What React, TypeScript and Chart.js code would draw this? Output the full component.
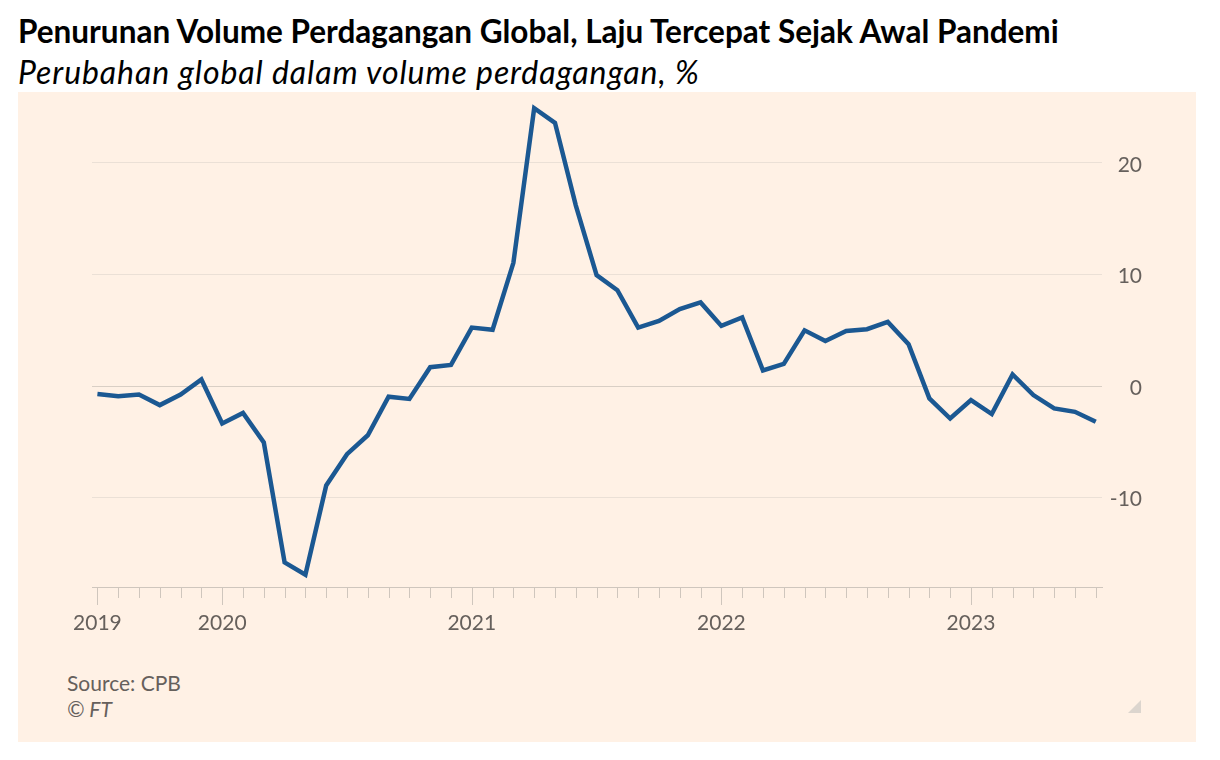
import React, { useEffect, useRef } from "react";
import { Chart, registerables } from "chart.js";

Chart.register(...registerables);

const months = [
  "2019-07", "2019-08", "2019-09", "2019-10", "2019-11", "2019-12",
  "2020-01", "2020-02", "2020-03", "2020-04", "2020-05", "2020-06",
  "2020-07", "2020-08", "2020-09", "2020-10", "2020-11", "2020-12",
  "2021-01", "2021-02", "2021-03", "2021-04", "2021-05", "2021-06",
  "2021-07", "2021-08", "2021-09", "2021-10", "2021-11", "2021-12",
  "2022-01", "2022-02", "2022-03", "2022-04", "2022-05", "2022-06",
  "2022-07", "2022-08", "2022-09", "2022-10", "2022-11", "2022-12",
  "2023-01", "2023-02", "2023-03", "2023-04", "2023-05", "2023-06",
  "2023-07",
];

const tradeVolumeChange = [
  -0.7, -0.9, -0.75, -1.7, -0.75, 0.6,
  -3.35, -2.4, -5.05, -15.8, -16.9, -8.9,
  -6.1, -4.4, -0.95, -1.15, 1.7, 1.9,
  5.25, 5.05, 11.05, 24.9, 23.6, 16.2,
  9.95, 8.6, 5.25, 5.85, 6.9, 7.5,
  5.4, 6.15, 1.4, 2.0, 5.0, 4.05,
  4.95, 5.1, 5.75, 3.75, -1.1, -2.9,
  -1.25, -2.5, 1.05, -0.8, -2.0, -2.3,
  -3.2,
];

const yTickValues = [-10, 0, 10, 20];

const TEXT = "#66605c";
const FONT = "Lato, 'Open Sans', sans-serif";

const isMajor = (i: number) => i === 0 || months[i].endsWith("-01");
const tickLabel = (i: number) => (isMajor(i) ? months[i].slice(0, 4) : "");

// Draws month tick marks under the x axis and right-aligned y labels,
// positioned through the chart's own scales.
const axisExtras = {
  id: "axisExtras",
  afterDraw(chart: any) {
    const xs = chart.scales.x;
    const ys = chart.scales.y;
    const ctx = chart.ctx;
    const { bottom, right } = chart.chartArea;
    ctx.save();
    ctx.strokeStyle = "#cfc6bd";
    ctx.lineWidth = 1;
    xs.ticks.forEach((t: any) => {
      const px = Math.round(xs.getPixelForValue(t.value)) + 0.5;
      const len = isMajor(t.value) ? 18 : 11;
      ctx.beginPath();
      ctx.moveTo(px, bottom);
      ctx.lineTo(px, bottom + len);
      ctx.stroke();
    });
    ctx.fillStyle = TEXT;
    ctx.font = `21px ${FONT}`;
    ctx.textAlign = "right";
    ctx.textBaseline = "middle";
    ys.ticks.forEach((t: any) => {
      const py = ys.getPixelForValue(t.value);
      ctx.fillText(String(t.value), right + 40, py + 2);
    });
    ctx.restore();
  },
};

export default function App() {
  const canvasRef = useRef<HTMLCanvasElement | null>(null);

  useEffect(() => {
    if (!canvasRef.current) return;
    const chart = new Chart(canvasRef.current, {
      type: "line",
      data: {
        datasets: [
          {
            data: tradeVolumeChange.map((v, i) => ({ x: i, y: v })),
            borderColor: "#1b5892",
            borderWidth: 4.5,
            pointRadius: 0,
            tension: 0,
            fill: false,
          },
        ],
      },
      options: {
        animation: false,
        responsive: false,
        maintainAspectRatio: false,
        layout: { padding: { left: 74, top: 4, right: 0, bottom: 0 } },
        plugins: {
          legend: { display: false },
          tooltip: { enabled: false },
        },
        scales: {
          x: {
            type: "linear",
            min: -0.26,
            max: 48.3,
            afterBuildTicks: (s: any) => {
              s.ticks = months.map((_, i) => ({ value: i }));
            },
            afterFit: (s: any) => {
              s.height = 65;
              s.paddingLeft = 0;
              s.paddingRight = 0;
            },
            grid: { display: false, drawTicks: false },
            border: { display: true, color: "#cfc6bd", width: 1 },
            ticks: {
              autoSkip: false,
              maxRotation: 0,
              minRotation: 0,
              padding: 24,
              color: TEXT,
              font: { family: FONT, size: 21 },
              callback: (v: any) => tickLabel(Number(v)),
            },
          },
          y: {
            position: "right",
            min: -18,
            max: 26,
            afterBuildTicks: (s: any) => {
              s.ticks = yTickValues.map((v) => ({ value: v }));
            },
            afterFit: (s: any) => {
              s.width = 94;
              s.paddingTop = 0;
              s.paddingBottom = 0;
            },
            grid: {
              drawTicks: false,
              color: (c: any) => (c.tick && c.tick.value === 0 ? "#d9cfc5" : "#ebe0d6"),
              lineWidth: 1,
            },
            border: { display: false },
            ticks: { display: false },
          },
        },
      },
      plugins: [axisExtras],
    } as any);
    return () => chart.destroy();
  }, []);

  return (
    <div style={{ position: "absolute", left: 0, top: 0, width: 1220, height: 760, background: "#fff" }}>
      <div
        style={{
          position: "absolute",
          left: 18,
          top: 16,
          fontFamily: FONT,
          fontWeight: 700,
          fontSize: 31.5,
          lineHeight: "31px",
          color: "#000",
          whiteSpace: "nowrap",
        }}
      >
        Penurunan Volume Perdagangan Global, Laju Tercepat Sejak Awal Pandemi
      </div>
      <div
        style={{
          position: "absolute",
          left: 18,
          top: 56,
          fontFamily: FONT,
          fontStyle: "italic",
          fontSize: 32,
          lineHeight: "32px",
          letterSpacing: 0.9,
          color: "#000",
          whiteSpace: "nowrap",
        }}
      >
        Perubahan global dalam volume perdagangan, %
      </div>
      <div
        style={{
          position: "absolute",
          left: 18,
          top: 92,
          width: 1178,
          height: 650,
          background: "#fff1e5",
        }}
      >
        <canvas ref={canvasRef} width={1178} height={560} style={{ display: "block", width: 1178, height: 560 }} />
        <div
          style={{
            position: "absolute",
            left: 49,
            top: 580,
            fontFamily: FONT,
            fontSize: 21,
            lineHeight: "21px",
            color: TEXT,
            whiteSpace: "nowrap",
          }}
        >
          Source: CPB
        </div>
        <div
          style={{
            position: "absolute",
            left: 49,
            top: 606,
            fontFamily: FONT,
            fontStyle: "italic",
            fontSize: 21,
            lineHeight: "21px",
            color: TEXT,
            whiteSpace: "nowrap",
          }}
        >
          © FT
        </div>
        <div
          style={{
            position: "absolute",
            left: 1110,
            top: 608,
            width: 0,
            height: 0,
            borderLeft: "13px solid transparent",
            borderBottom: "13px solid #dcd5ce",
          }}
        />
      </div>
    </div>
  );
}
